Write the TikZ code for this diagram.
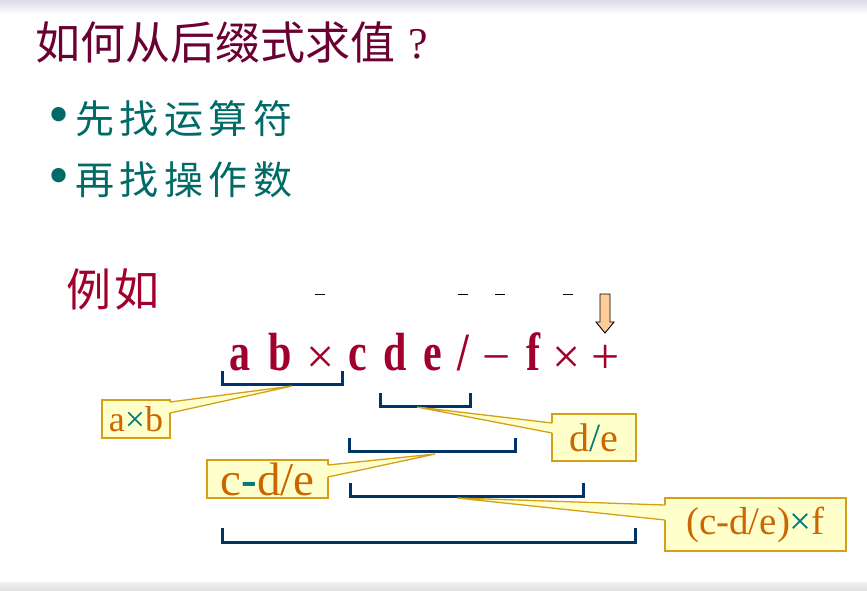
\documentclass[tikz,border=0pt]{standalone}
\usepackage{fontspec}
\usepackage{graphicx}
\setmainfont{Liberation Serif}
\newfontfamily\cjktitle{Noto Sans CJK SC}
\newfontfamily\cjkbody[LetterSpace=14]{Noto Sans CJK SC}
\newfontfamily\cjkeg[LetterSpace=8]{Noto Sans CJK SC}
\definecolor{titlec}{HTML}{6B0033}
\definecolor{tealc}{HTML}{006B66}
\definecolor{redc}{HTML}{A0002B}
\definecolor{navy}{HTML}{003366}
\definecolor{callfill}{HTML}{FFFFCC}
\definecolor{callbord}{HTML}{D4A017}
\definecolor{calltext}{HTML}{CC6600}
\definecolor{xteal}{HTML}{007A7A}
\definecolor{arrowfill}{HTML}{FFCC99}
\tikzset{
  sym/.style={anchor=base,inner sep=0pt,text=redc,font=\fontsize{42}{44}\selectfont\bfseries},
  opsym/.style={anchor=base,inner sep=0pt,text=redc,font=\fontsize{50}{52}\selectfont},
  brk/.style={draw=navy,line width=3pt,line join=miter},
  callbox/.style={draw=callbord,fill=callfill,line width=1.3pt,inner sep=0pt,text=calltext},
  callside/.style={draw=callbord,line width=1.3pt},
  bul/.style={anchor=center,inner sep=0pt,text=tealc,font=\fontsize{60}{60}\selectfont},
}
\newcommand{\tall}[1]{\scalebox{1}[1.28]{#1}}
\begin{document}
\begin{tikzpicture}[x=1pt,y=-1pt]
\useasboundingbox (0,0) rectangle (867,590);
\fill[white] (0,0) rectangle (867,590);
\shade[top color={rgb,255:red,218;green,218;blue,234},bottom color=white] (0,0) rectangle (867,14);
\shade[top color={rgb,255:red,240;green,240;blue,240},bottom color={rgb,255:red,225;green,225;blue,225}] (0,582) rectangle (867,590);

% title
\node[anchor=west,inner sep=0pt,text=titlec,font=\fontsize{45}{48}\cjktitle] (title) at (35,42) {如何从后缀式求值};
\node[anchor=center,inner sep=0pt,text=titlec,font=\fontsize{44}{46}\selectfont] (qm) at (418,44) {?};

% bullets
\node[bul] (b1dot) at (59,121) {•};
\node[anchor=west,inner sep=0pt,text=tealc,font=\fontsize{39}{42}\cjkbody] (b1) at (75,119) {先找运算符};
\node[bul] (b2dot) at (59,182) {•};
\node[anchor=west,inner sep=0pt,text=tealc,font=\fontsize{39}{42}\cjkbody] (b2) at (75,180) {再找操作数};

% 例如
\node[anchor=west,inner sep=0pt,text=redc,font=\fontsize{45}{46}\cjkeg] (eg) at (66,289) {例如};

% tiny dashes
\foreach \x [count=\i] in {320,463,500,568} {
  \draw[black,line width=0.8pt] (\x-5,294) -- (\x+5,294);
}

% expression
\node[sym] (sa) at (240,370) {\tall{a}};
\node[sym] (sb) at (280,370) {\tall{b}};
\node[opsym] (sx1) at (321,373) {×};
\node[sym] (sc) at (358,370) {\tall{c}};
\node[sym] (sd) at (395,370) {\tall{d}};
\node[sym] (se) at (433,370) {\tall{e}};
\node[sym] (ss) at (463,370) {\tall{/}};
\node[opsym] (sm) at (497,373) {−};
\node[sym] (sf) at (533,370) {\tall{f}};
\node[opsym] (sx2) at (567,373) {×};
\node[opsym] (sp) at (606,373) {+};

% down arrow
\coordinate (arrtip) at (605,333);
\draw[black,line width=0.9pt,fill=arrowfill] (600,294) -- (610,294) -- (610,322) -- (614,322) -- (arrtip) -- (596,322) -- (600,322) -- cycle;

% brackets
\draw[brk] (222,371) -- (222,384) -- (342,384) -- (342,371);
\draw[brk] (380,393) -- (380,406) -- (470,406) -- (470,393);
\draw[brk] (349,438) -- (349,451) -- (515,451) -- (515,438);
\draw[brk] (350,483) -- (350,496) -- (583,496) -- (583,483);
\draw[brk] (222,528) -- (222,542) -- (635,542) -- (635,528);

% tips
\coordinate (t1) at (292,386);
\coordinate (t2) at (417,407);
\coordinate (t3) at (435,454);
\coordinate (t4) at (457,498);

% callout a×b
\node[callbox,minimum width=68pt,minimum height=38pt] (c1) at (136,419) {\fontsize{36}{38}\selectfont a\textcolor{xteal}{×}b};
\fill[callfill] (169,402) -- (t1) -- (169,413) -- cycle;
\draw[callside] (170,402) -- (t1) -- (170,413);

% callout d/e
\node[callbox,minimum width=84pt,minimum height=47pt] (c2) at (594,437.5) {\fontsize{40}{42}\selectfont d\textcolor{xteal}{/}e};
\fill[callfill] (553,423) -- (t2) -- (553,433) -- cycle;
\draw[callside] (552,423) -- (t2) -- (552,433);

% callout c-d/e
\node[callbox,minimum width=121pt,minimum height=38pt] (c3) at (267.5,479) {\fontsize{47}{48}\selectfont c\textcolor{xteal}{\textbf{-}}d/e};
\fill[callfill] (327,465) -- (t3) -- (327,477) -- cycle;
\draw[callside] (328,465) -- (t3) -- (328,477);

% callout (c-d/e)×f
\node[callbox,minimum width=181pt,minimum height=53pt] (c4) at (755.5,524.5) {\fontsize{39}{41}\selectfont (c-d/e)\textcolor{xteal}{×}f};
\fill[callfill] (666,505) -- (t4) -- (666,520) -- cycle;
\draw[callside] (665,505) -- (t4) -- (665,520);
\end{tikzpicture}
\end{document}
